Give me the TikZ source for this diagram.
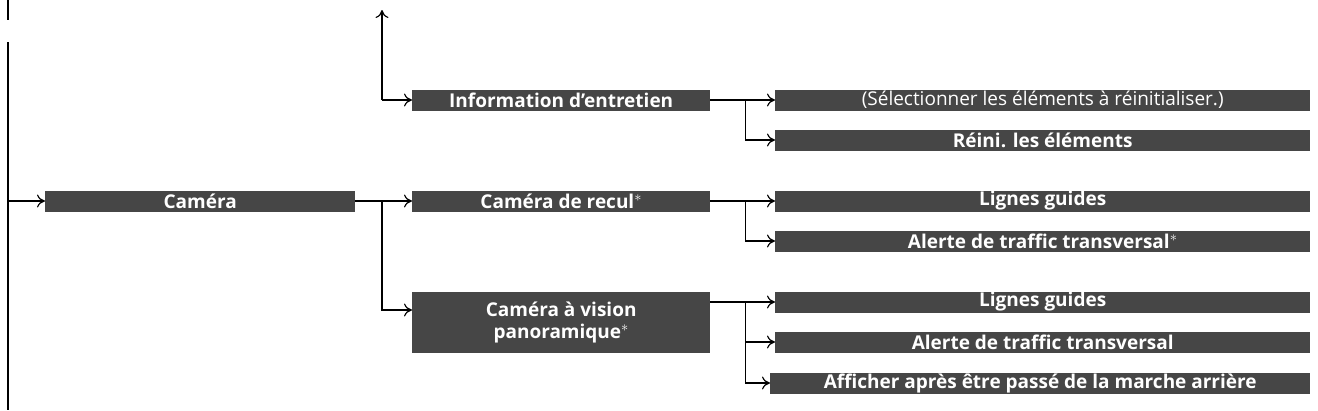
\documentclass[tikz,border=0pt]{standalone}
\usepackage{fontspec}
\setmainfont{Open Sans}
\usetikzlibrary{positioning,arrows.meta}
\definecolor{boxgray}{RGB}{70,70,70}
\tikzset{
	menubox/.style={fill=boxgray, text=white, font=\bfseries\fontsize{19}{22}\selectfont, inner sep=0pt, align=center, anchor=west, minimum height=21pt},
	link/.style={-{To[length=8pt,width=13pt]}, line width=1.2pt}
}
\begin{document}
\begin{tikzpicture}[x=1pt,y=-1pt]
		\useasboundingbox (0,0) rectangle (1318,410);
		
		\node[menubox, minimum width=310pt] at (45,201) (cam)    {Caméra};
		\node[menubox, minimum width=298pt] at (412,100) (info)    {Information d’entretien};
		\node[menubox, minimum width=298pt] at (412,201) (recul)    {Caméra de recul$^{*}$};
		\node[menubox, minimum width=298pt, minimum height=61pt] at (412,322) (pano)    {Caméra à vision\\panoramique$^{*}$};
		
		\node[menubox, minimum width=535pt] at (775,100) (sel)    {\mdseries (Sélectionner les éléments à réinitialiser.)};
		\node[menubox, minimum width=535pt] at (775,140) (reini)    {Réini. les éléments};
		\node[menubox, minimum width=535pt] at (775,201) (lg1)    {Lignes guides};
		\node[menubox, minimum width=535pt] at (775,241) (alt1)    {Alerte de traffic transversal$^{*}$};
		\node[menubox, minimum width=535pt] at (775,302) (lg2)    {Lignes guides};
		\node[menubox, minimum width=535pt] at (775,342) (alt2)    {Alerte de traffic transversal};
		\node[menubox, minimum width=540pt] at (770,383) (aff)    {Afficher après être passé de la marche arrière};
		
		\coordinate (top) at (382,10);
		\coordinate (bus) at (8,201);
		\coordinate (fork) at (745,342);
		\coordinate (split) at (382,201);
		
		%Lines
		\draw[line width=1.2pt] (8,0) -- (8,20);
		\draw[line width=1.2pt] (8,42) -- (8,410);
		\draw[link] (bus) -- (cam.west);
		
		\draw[link] (cam.east) -- (split) -- (382,310) -- (pano.west |- 0,310);
		\draw[link] (cam.east) -- (recul.west);
		\draw[link] (382,100) -- (top);
		\draw[link] (382,100) -- (info.west);
		
		\draw[link] (info.east) -- ++(35,0) |- (reini.west);
		\draw[link] (info.east) -- (sel.west);
		\draw[link] (recul.east) -- ++(35,0) |- (alt1.west);
		\draw[link] (recul.east) -- (lg1.west);
		\draw[link] (pano.east |- lg2) -- ++(35,0) |- (aff.west);
		\draw[link] (pano.east |- lg2) -- (lg2.west);
		\draw[link] (fork) -- (alt2.west);
	\end{tikzpicture}
\end{document}
